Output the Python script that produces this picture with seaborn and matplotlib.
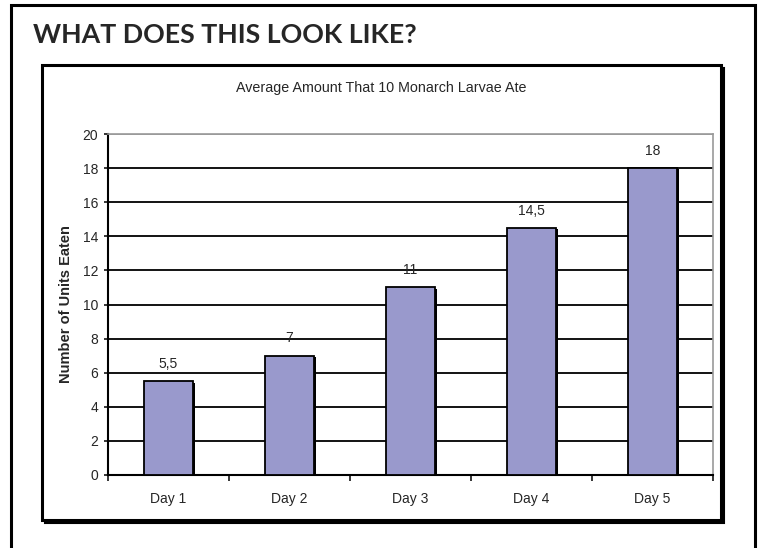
import matplotlib
matplotlib.use('Agg')
import matplotlib.pyplot as plt
import matplotlib.patheffects as pe
from matplotlib.patches import Rectangle
import seaborn as sns
import pandas as pd

# chart data
days = ['Day 1', 'Day 2', 'Day 3', 'Day 4', 'Day 5']
units_eaten = [5.5, 7, 11, 14.5, 18]
y_ticks = [0, 2, 4, 6, 8, 10, 12, 14, 16, 18, 20]

df = pd.DataFrame({'Day': days, 'Units': units_eaten})

sns.set_style('white')
plt.rcParams['font.family'] = ['Liberation Sans', 'DejaVu Sans']

W, H = 760, 548
fig = plt.figure(figsize=(W / 100, H / 100), dpi=100)

def fx(px):
    return px / W

def fy(py):
    return 1 - py / H

# outer page border (bottom edge runs off the image)
fig.add_artist(Rectangle((fx(11), fy(560)), fx(755) - fx(11), fy(5) - fy(560),
                         transform=fig.transFigure, fill=False, edgecolor='black',
                         linewidth=2.2, zorder=-5))

# heading
fig.text(fx(33), fy(35), 'WHAT DOES THIS LOOK LIKE?', fontsize=19.3, fontweight='bold',
         family=['Lato', 'DejaVu Sans'], va='center', ha='left')

# inner chart box with shadow
fig.add_artist(Rectangle((fx(45), fy(523)), fx(724) - fx(45), fy(68) - fy(523),
                         transform=fig.transFigure, facecolor='black', edgecolor='black',
                         linewidth=1.5, zorder=-4))
fig.add_artist(Rectangle((fx(42), fy(520)), fx(721) - fx(42), fy(65) - fy(520),
                         transform=fig.transFigure, facecolor='white', edgecolor='black',
                         linewidth=2.2, zorder=-3))

fig.text(fx(381), fy(88), 'Average Amount That 10 Monarch Larvae Ate', fontsize=10.3,
         ha='center', va='center')

# plot area
left, right, top, bottom = 108, 713, 134, 475
ax = fig.add_axes([fx(left), fy(bottom), fx(right) - fx(left), fy(top) - fy(bottom)])

sns.barplot(data=df, x='Day', y='Units', color='#9999CC', edgecolor='black',
            linewidth=1.3, width=0.41, saturation=1, ax=ax, zorder=3)
for bar in ax.patches:
    bar.set_path_effects([pe.SimplePatchShadow(offset=(1.5, -1), shadow_rgbFace='black', alpha=1),
                          pe.Normal()])

ax.set_ylim(0, 20)
ax.set_xlim(-0.5, len(days) - 0.5)
ax.set_yticks(y_ticks)
ax.set_yticklabels([str(t) for t in y_ticks], fontsize=10)
for t in y_ticks[1:-1]:
    ax.axhline(t, color='black', linewidth=1.3, zorder=1)
ax.axhline(20, color='#999999', linewidth=1.3, zorder=1)

ax.set_xticks([i for i in range(len(days))])
ax.set_xticklabels(days, fontsize=10)
ax.tick_params(axis='x', length=0, pad=12)
ax.set_xticks([i - 0.5 for i in range(len(days) + 1)], minor=True)
ax.tick_params(axis='x', which='minor', length=4, width=1.3, direction='out', bottom=True)
ax.tick_params(axis='y', length=3, width=1.3, direction='out', left=True, pad=4)

for side in ['left', 'bottom']:
    ax.spines[side].set_color('black')
    ax.spines[side].set_linewidth(1.5)
for side in ['top', 'right']:
    ax.spines[side].set_color('#999999')
    ax.spines[side].set_linewidth(1.2)

for i, v in enumerate(units_eaten):
    label = ('%g' % v).replace('.', ',')
    ax.text(i, v + 0.6, label, ha='center', va='bottom', fontsize=10, zorder=4)

ax.set_xlabel('')
ax.set_ylabel('Number of Units Eaten', fontsize=10.5, fontweight='bold', labelpad=7)

fig.savefig('out.png', dpi=100)
